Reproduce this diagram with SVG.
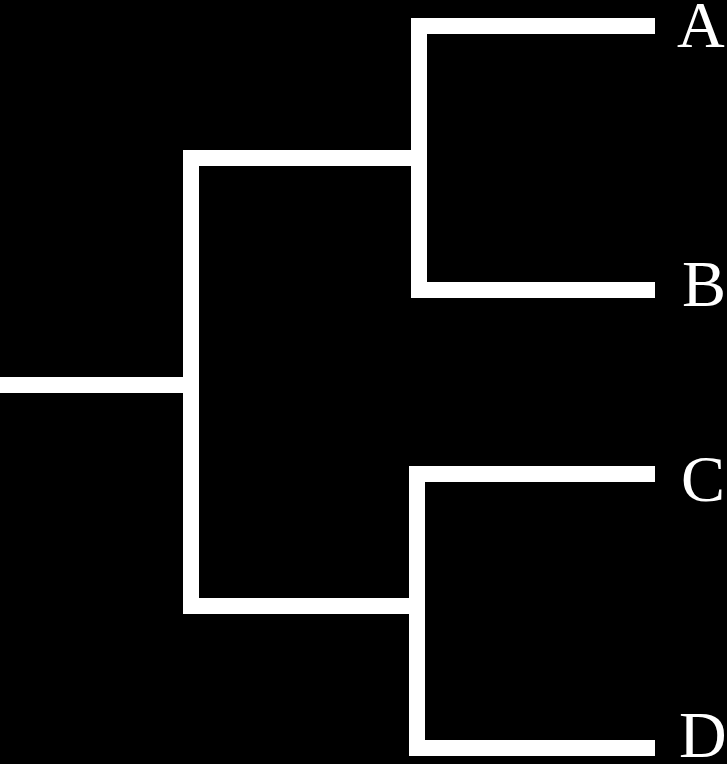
<svg xmlns="http://www.w3.org/2000/svg" width="727" height="764" viewBox="0 0 727 764">
<style>
.br{fill:none;stroke:#fff;stroke-width:16;stroke-linecap:butt;stroke-linejoin:miter}
.lb{font-family:"Liberation Serif","Times New Roman",serif;font-size:66px;fill:#fff}
</style>
<rect width="727" height="764" fill="#000"/>
<g id="connectors">
<path class="br" d="M0,385 H191"/>
<path class="br" d="M419,158 H191 V606 H417"/>
<path class="br" d="M655,26 H419 V290 H655"/>
<path class="br" d="M655,474 H417 V748 H655"/>
</g>
<g id="A"><text class="lb" x="677" y="47">A</text></g>
<g id="B"><text class="lb" x="682" y="306">B</text></g>
<g id="C"><text class="lb" x="681" y="501">C</text></g>
<g id="D"><text class="lb" x="679" y="757">D</text></g>
</svg>
